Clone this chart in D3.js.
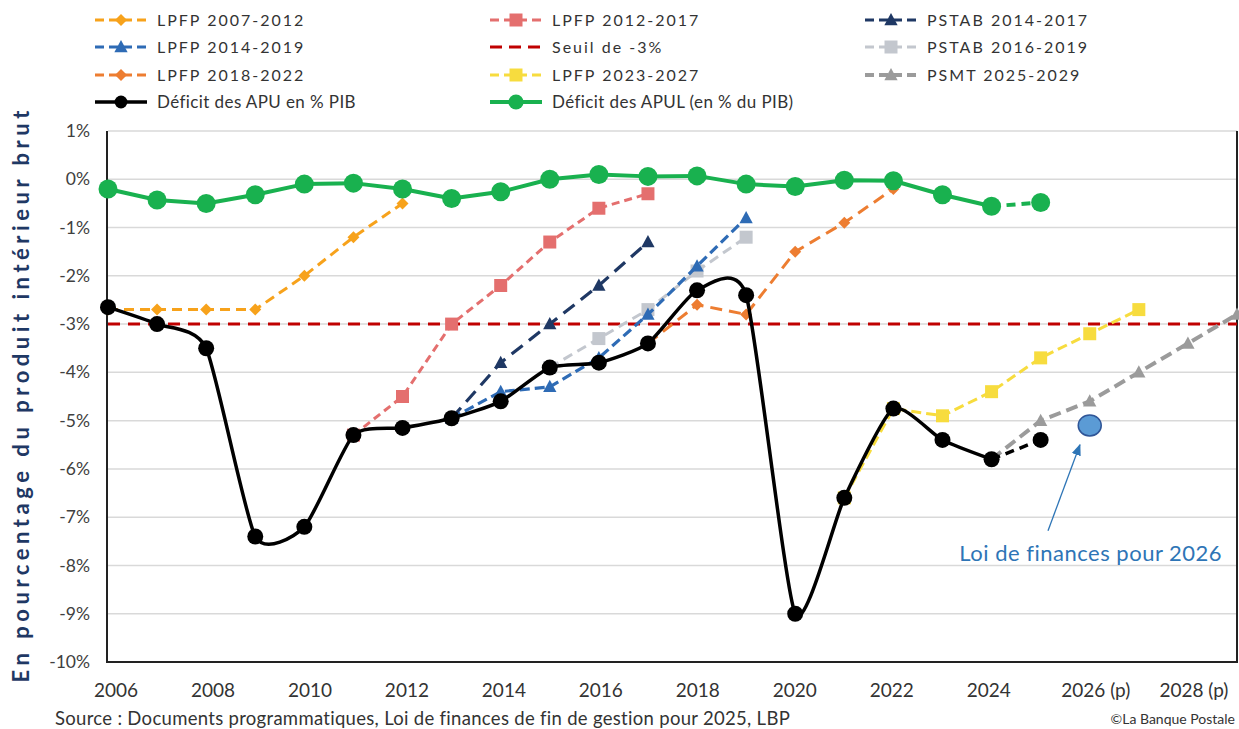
<!DOCTYPE html>
<html><head><meta charset="utf-8">
<script src="https://cdn.jsdelivr.net/npm/d3@7"></script>
<style>
body{margin:0;background:#fff}
svg{display:block}
text{font-family:Lato,"Open Sans",sans-serif}
</style>
</head><body>
<svg id="chart" width="1239" height="729"></svg>
<script>
// ---------- DATA ----------
const xTickYears = [2006, 2008, 2010, 2012, 2014, 2016, 2018, 2020, 2022, 2024, 2026, 2028];
const xTickLabels = ["2006", "2008", "2010", "2012", "2014", "2016", "2018", "2020", "2022", "2024", "2026 (p)", "2028 (p)"];
const yTicks = [1, 0, -1, -2, -3, -4, -5, -6, -7, -8, -9, -10];

const apuYears  = [2006, 2007, 2008, 2009, 2010, 2011, 2012, 2013, 2014, 2015, 2016, 2017, 2018, 2019, 2020, 2021, 2022, 2023, 2024, 2025];
const apuValues = [-2.65, -3.0, -3.5, -7.4, -7.2, -5.3, -5.15, -4.95, -4.6, -3.9, -3.8, -3.4, -2.3, -2.4, -9.0, -6.6, -4.75, -5.4, -5.8, -5.4];
const apuLastActual = 2024;

const apulYears  = [2006, 2007, 2008, 2009, 2010, 2011, 2012, 2013, 2014, 2015, 2016, 2017, 2018, 2019, 2020, 2021, 2022, 2023, 2024, 2025];
const apulValues = [-0.2, -0.43, -0.5, -0.32, -0.1, -0.08, -0.2, -0.4, -0.26, 0.0, 0.1, 0.06, 0.07, -0.1, -0.15, -0.02, -0.03, -0.32, -0.56, -0.48];
const apulLastActual = 2024;

const lpfp0712Years  = [2006, 2007, 2008, 2009, 2010, 2011, 2012];
const lpfp0712Values = [-2.7, -2.7, -2.7, -2.7, -2.0, -1.2, -0.5];
const lpfp1217Years  = [2011, 2012, 2013, 2014, 2015, 2016, 2017];
const lpfp1217Values = [-5.3, -4.5, -3.0, -2.2, -1.3, -0.6, -0.3];
const pstab1417Years  = [2013, 2014, 2015, 2016, 2017];
const pstab1417Values = [-4.95, -3.8, -3.0, -2.2, -1.3];
const lpfp1419Years  = [2013, 2014, 2015, 2016, 2017, 2018, 2019];
const lpfp1419Values = [-4.95, -4.4, -4.3, -3.7, -2.8, -1.8, -0.8];
const pstab1619Years  = [2015, 2016, 2017, 2018, 2019];
const pstab1619Values = [-3.9, -3.3, -2.7, -1.9, -1.2];
const lpfp1822Years  = [2017, 2018, 2019, 2020, 2021, 2022];
const lpfp1822Values = [-3.4, -2.6, -2.8, -1.5, -0.9, -0.2];
const lpfp2327Years  = [2021, 2022, 2023, 2024, 2025, 2026, 2027];
const lpfp2327Values = [-6.6, -4.75, -4.9, -4.4, -3.7, -3.2, -2.7];
const psmtYears  = [2024, 2025, 2026, 2027, 2028, 2029];
const psmtValues = [-5.8, -5.0, -4.6, -4.0, -3.4, -2.8];
const seuilValue = -3;
const lfiYear = 2026, lfiValue = -5.1;
const lfiLabel = "Loi de finances pour 2026";

const legendLabels = [
  "LPFP 2007-2012", "LPFP 2012-2017", "PSTAB 2014-2017",
  "LPFP 2014-2019", "Seuil de -3%", "PSTAB 2016-2019",
  "LPFP 2018-2022", "LPFP  2023-2027", "PSMT  2025-2029",
  "Déficit des APU en % PIB", "Déficit des APUL (en % du PIB)"
];
const yTitle = "En pourcentage du produit intérieur brut";
const sourceText = "Source : Documents programmatiques, Loi de finances de fin de gestion pour 2025, LBP";
const copyText = "©La Banque Postale";

// ---------- STYLES ----------
const S = {
  lpfp0712: {color: "#F7A21B", dash: "10,6", width: 3, marker: "diamond", size: 6},
  lpfp1217: {color: "#E46F6E", dash: "8,5", width: 3, marker: "square", size: 6.5},
  pstab1417: {color: "#1F3864", dash: "14,8", width: 3.2, marker: "triangle", size: 7},
  lpfp1419: {color: "#2E6BB5", dash: "10,5", width: 3.2, marker: "triangle", size: 7},
  seuil: {color: "#C00000", dash: "12,8", width: 3, marker: null},
  pstab1619: {color: "#C3C7CE", dash: "10,6", width: 3, marker: "square", size: 6.5},
  lpfp1822: {color: "#ED7D31", dash: "12,7", width: 3, marker: "diamond", size: 6},
  lpfp2327: {color: "#F7DC3E", dash: "10,5", width: 3, marker: "square", size: 6.5},
  psmt: {color: "#9B9B9B", dash: "12,6", width: 4, marker: "triangle", size: 7},
  apu: {color: "#000000", dash: null, width: 3.5, marker: "circle", size: 8},
  apul: {color: "#19B14F", dash: null, width: 4, marker: "circle", size: 9.5}
};

// ---------- SCALES ----------
const svg = d3.select("#chart");
const x = d3.scaleLinear().domain([2006, 2029]).range([108, 1237]);
const y = d3.scaleLinear().domain([-10, 1]).range([662, 131]);

// grid
svg.append("g").selectAll("line").data(yTicks.filter(t => t > -10)).join("line")
  .attr("x1", x(2006)).attr("x2", x(2029))
  .attr("y1", d => y(d)).attr("y2", d => y(d))
  .attr("stroke", "#D9D9D9").attr("stroke-width", 1.5);

// y tick labels
svg.append("g").selectAll("text").data(yTicks).join("text")
  .attr("x", 90).attr("y", d => y(d)).attr("dy", "0.35em")
  .attr("text-anchor", "end").attr("font-size", 17.5).attr("fill", "#404040")
  .text(d => d + "%");

// x tick labels
svg.append("g").selectAll("text").data(xTickYears).join("text")
  .attr("x", (d, i) => x(d) + (i < 10 ? 8 - i * 1.2 : 6))
  .attr("y", 690).attr("dy", "0.35em")
  .attr("text-anchor", "middle").attr("font-size", 19).attr("fill", "#333")
  .text((d, i) => xTickLabels[i]);

// plot border
svg.append("path")
  .attr("d", `M${x(2006)-1},${y(1)} V${y(-10)} H${x(2029)} V${y(1)}`)
  .attr("fill", "none").attr("stroke", "#222").attr("stroke-width", 2);

// y title
svg.append("text")
  .attr("transform", `translate(29,${(y(1)+y(-10))/2}) rotate(-90)`)
  .attr("text-anchor", "middle").attr("font-size", 22).attr("font-weight", 700)
  .attr("textLength", 572).attr("lengthAdjust", "spacing").attr("fill", "#1F3864")
  .text(yTitle);

// ---------- MARKERS ----------
function markerPath(type, r) {
  if (type === "circle") return d3.symbol(d3.symbolCircle, Math.PI * r * r)();
  if (type === "square") return d3.symbol(d3.symbolSquare, (2 * r) * (2 * r))();
  if (type === "diamond") return `M0,${-r}L${r},0L0,${r}L${-r},0Z`;
  if (type === "triangle") return `M0,${-r}L${r*0.95},${r*0.75}L${-r*0.95},${r*0.75}Z`;
  return null;
}

const line = d3.line().x(d => x(d[0])).y(d => y(d[1]));

function drawSeries(years, values, st) {
  const pts = years.map((yr, i) => [yr, values[i]]);
  const g = svg.append("g");
  g.append("path").datum(pts)
    .attr("d", line(pts))
    .attr("fill", "none").attr("stroke", st.color).attr("stroke-width", st.width)
    .attr("stroke-dasharray", st.dash).attr("stroke-linejoin", "round");
  if (st.marker) {
    g.selectAll("path.m").data(pts).join("path").attr("class", "m")
      .attr("transform", d => `translate(${x(d[0])},${y(d[1])})`)
      .attr("d", markerPath(st.marker, st.size)).attr("fill", st.color);
  }
  return g;
}

// threshold
svg.append("line")
  .attr("x1", x(2006)).attr("x2", x(2029)).attr("y1", y(seuilValue)).attr("y2", y(seuilValue))
  .attr("stroke", S.seuil.color).attr("stroke-width", S.seuil.width).attr("stroke-dasharray", S.seuil.dash);

drawSeries(lpfp0712Years, lpfp0712Values, S.lpfp0712);
drawSeries(lpfp1217Years, lpfp1217Values, S.lpfp1217);
drawSeries(pstab1619Years, pstab1619Values, S.pstab1619);
drawSeries(lpfp1419Years, lpfp1419Values, S.lpfp1419);
drawSeries(pstab1417Years, pstab1417Values, S.pstab1417);
drawSeries(lpfp1822Years, lpfp1822Values, S.lpfp1822);
drawSeries(lpfp2327Years, lpfp2327Values, S.lpfp2327);
drawSeries(psmtYears, psmtValues, S.psmt);

// main series: solid to last actual, dashed after
function drawMain(years, values, lastActual, st, curve) {
  const pts = years.map((yr, i) => [yr, values[i]]);
  const solid = pts.filter(d => d[0] <= lastActual);
  const proj = pts.filter(d => d[0] >= lastActual);
  const g = svg.append("g");
  g.append("path")
    .attr("d", d3.line().x(d => x(d[0])).y(d => y(d[1])).curve(curve)(solid))
    .attr("fill", "none").attr("stroke", st.color).attr("stroke-width", st.width).attr("stroke-linejoin", "round");
  g.append("path")
    .attr("d", line(proj))
    .attr("fill", "none").attr("stroke", st.color).attr("stroke-width", st.width).attr("stroke-dasharray", "9,6");
  g.selectAll("path.m").data(pts).join("path").attr("class", "m")
    .attr("transform", d => `translate(${x(d[0])},${y(d[1])})`)
    .attr("d", markerPath("circle", st.size)).attr("fill", st.color);
}
drawMain(apulYears, apulValues, apulLastActual, S.apul, d3.curveLinear);
drawMain(apuYears, apuValues, apuLastActual, S.apu, d3.curveCardinal.tension(0.4));

// LFI 2026 point
svg.append("ellipse")
  .attr("cx", x(lfiYear)).attr("cy", y(lfiValue)).attr("rx", 11.5).attr("ry", 10.5)
  .attr("fill", "#5B9BD5").attr("stroke", "#2F5597").attr("stroke-width", 1.5);

// annotation arrow + label
const ax1 = x(2025.15), ay1 = y(-7.28), ax2 = x(2025.8), ay2 = y(-5.5);
svg.append("defs").append("marker").attr("id", "arr")
  .attr("viewBox", "0 0 10 10").attr("refX", 9).attr("refY", 5)
  .attr("markerWidth", 9).attr("markerHeight", 9).attr("orient", "auto")
  .append("path").attr("d", "M0,1L10,5L0,9Z").attr("fill", "#2E75B6");
svg.append("line").attr("x1", ax1).attr("y1", ay1).attr("x2", ax2).attr("y2", ay2)
  .attr("stroke", "#2E75B6").attr("stroke-width", 1.3).attr("marker-end", "url(#arr)");
svg.append("text").attr("x", x(2026) + 1).attr("y", y(-7.75)).attr("dy", "0.35em")
  .attr("text-anchor", "middle").attr("font-size", 22).attr("letter-spacing", 0.5).attr("fill", "#2E75B6")
  .text(lfiLabel);

// ---------- LEGEND ----------
const legendStyles = [S.lpfp0712, S.lpfp1217, S.pstab1417, S.lpfp1419, S.seuil, S.pstab1619,
  S.lpfp1822, S.lpfp2327, S.psmt, S.apu, S.apul];
const colX = [95, 490, 865];
const rowY = [20, 47, 75, 102];
const lg = svg.append("g");
legendLabels.forEach((lab, i) => {
  const cx = colX[i % 3], cy = rowY[Math.floor(i / 3)];
  const st = legendStyles[i];
  const g = lg.append("g").attr("transform", `translate(${cx},${cy})`);
  g.append("line").attr("x1", 0).attr("x2", 52).attr("y1", 0).attr("y2", 0)
    .attr("stroke", st.color).attr("stroke-width", st.width)
    .attr("stroke-dasharray", st.dash ? (lab.startsWith("Seuil") ? "12,7" : "9,5") : null);
  if (st.marker) g.append("path").attr("transform", "translate(26,0)")
    .attr("d", markerPath(st.marker, st.marker === "circle" ? st.size * 0.8 : st.size)).attr("fill", st.color);
  const isDef = lab.startsWith("Déficit");
  g.append("text").attr("x", 62).attr("dy", "0.35em").attr("font-size", isDef ? 17 : 16)
    .attr("letter-spacing", isDef ? 0.4 : 2).attr("fill", "#333").text(lab);
});

// source & copyright
svg.append("text").attr("x", 55).attr("y", 719).attr("dy", "0.35em").attr("font-size", 18.5)
  .attr("letter-spacing", 0.3).attr("fill", "#333").text(sourceText);
svg.append("text").attr("x", 1235).attr("y", 719).attr("dy", "0.35em").attr("font-size", 14)
  .attr("text-anchor", "end").attr("fill", "#333").text(copyText);
</script>
</body></html>
